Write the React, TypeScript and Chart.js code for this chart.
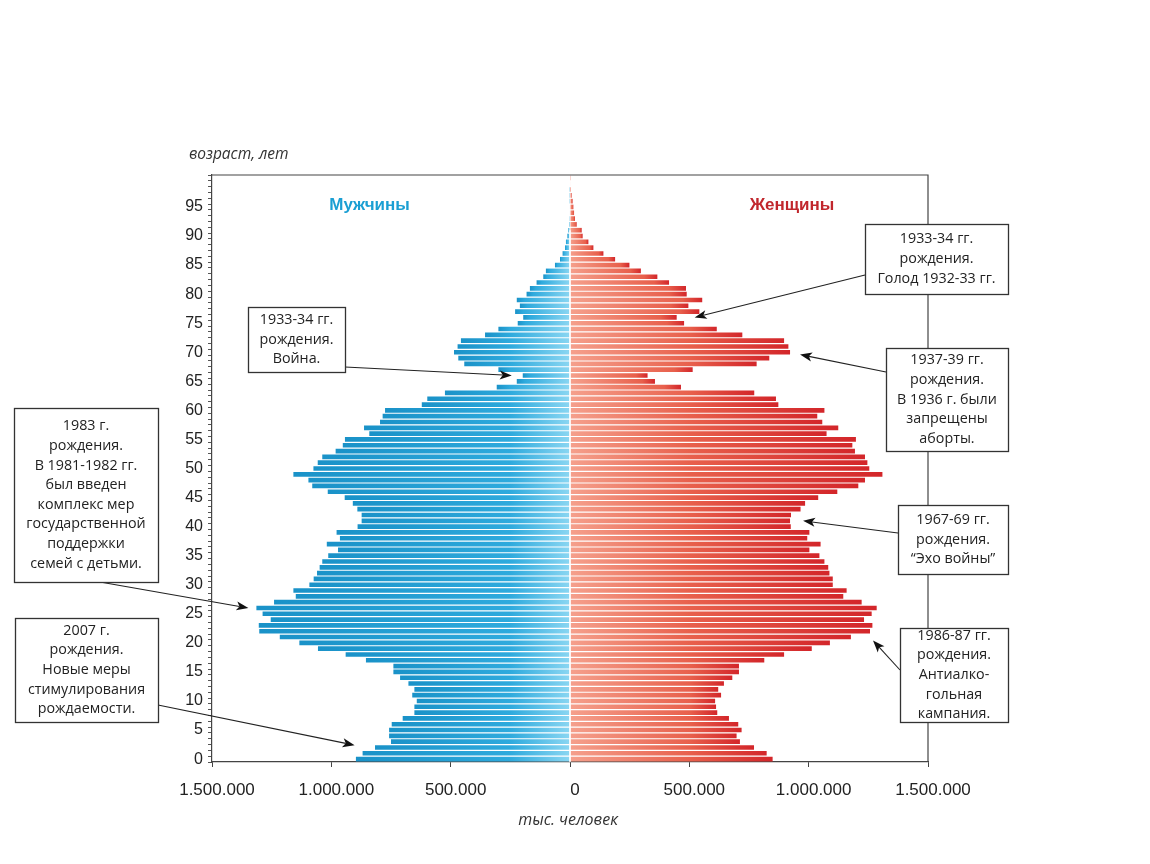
import React, { useEffect, useRef } from 'react';
import { Chart, registerables } from 'chart.js';

Chart.register(...registerables);

// ages (categories)
const ageLabels = [
  '0','1','2','3','4','5','6','7','8','9','10','11','12','13','14','15','16','17','18','19',
  '20','21','22','23','24','25','26','27','28','29','30','31','32','33','34','35','36','37','38','39',
  '40','41','42','43','44','45','46','47','48','49','50','51','52','53','54','55','56','57','58','59',
  '60','61','62','63','64','65','66','67','68','69','70','71','72','73','74','75','76','77','78','79',
  '80','81','82','83','84','85','86','87','88','89','90','91','92','93','94','95','96','97','98','99','100',
];

// thousands of persons, age 0..100
const maleThousands = [
  897, 869, 817, 750, 758, 758, 747, 701, 652, 652,
  642, 661, 652, 677, 712, 740, 740, 855, 940, 1056,
  1134, 1216, 1302, 1304, 1254, 1288, 1314, 1240, 1149, 1159,
  1092, 1074, 1060, 1049, 1038, 1013, 972, 1019, 964, 978,
  890, 873, 873, 891, 910, 944, 1015, 1080, 1096, 1159,
  1075, 1057, 1038, 982, 952, 943, 841, 863, 796, 785,
  775, 621, 598, 524, 307, 223, 198, 300, 443, 468,
  486, 471, 457, 356, 300, 219, 196, 230, 210, 223,
  182, 168, 140, 112, 101, 63, 42, 31, 21, 17,
  11, 7, 4, 3, 2, 2, 1, 1, 1, 0, 0,
];

const femaleThousands = [
  849, 824, 771, 712, 698, 719, 705, 666, 617, 612,
  608, 633, 621, 645, 680, 708, 708, 814, 897, 1013,
  1089, 1177, 1257, 1267, 1232, 1264, 1285, 1222, 1145, 1159,
  1101, 1101, 1087, 1082, 1066, 1045, 1003, 1050, 994, 1003,
  925, 922, 926, 966, 985, 1040, 1120, 1208, 1236, 1309,
  1254, 1246, 1236, 1194, 1183, 1198, 1075, 1124, 1057, 1036,
  1066, 873, 863, 772, 465, 356, 325, 514, 782, 835,
  922, 915, 897, 722, 615, 478, 447, 542, 496, 554,
  489, 486, 415, 366, 297, 249, 189, 140, 98, 77,
  53, 49, 28, 21, 17, 14, 11, 7, 4, 2, 1,
];

const yTickLabels = ['0','5','10','15','20','25','30','35','40','45','50','55','60','65','70','75','80','85','90','95'];
const xTickValues = [-1500000, -1000000, -500000, 0, 500000, 1000000, 1500000];
const xTickLabels = ['1.500.000','1.000.000','500.000','0','500.000','1.000.000','1.500.000'];

const maleLabel = 'Мужчины';
const femaleLabel = 'Женщины';
const yTitle = 'возраст, лет';
const xTitle = 'тыс. человек';

type Note = {
  lines: string[];
  box: [number, number, number, number];
  from: [number, number];
  series: 'male' | 'female';
  age: number;
  dAge: number;
  dx: number;
};

const notes: Note[] = [
  { lines: ['1933-34 гг.', 'рождения.', 'Война.'], box: [248, 307, 97, 65], from: [345, 367], series: 'male', age: 66, dAge: 0, dx: -11 },
  { lines: ['1933-34 гг.', 'рождения.', 'Голод 1932-33 гг.'], box: [865, 224, 143, 70], from: [865, 275], series: 'female', age: 76, dAge: 0, dx: 18 },
  { lines: ['1937-39 гг.', 'рождения.', 'В 1936 г. были', 'запрещены', 'аборты.'], box: [886, 348, 122, 103], from: [886, 372], series: 'female', age: 70, dAge: -0.4, dx: 10 },
  { lines: ['1967-69 гг.', 'рождения.', '“Эхо войны”'], box: [898, 505, 110, 69], from: [898, 533], series: 'female', age: 41, dAge: 0, dx: 13 },
  { lines: ['1986-87 гг.', 'рождения.', 'Антиалко-', 'гольная', 'кампания.'], box: [900, 628, 108, 94], from: [900, 670], series: 'female', age: 22, dAge: -1.6, dx: 3 },
  { lines: ['1983 г.', 'рождения.', 'В 1981-1982 гг.', 'был введен', 'комплекс мер', 'государственной', 'поддержки', 'семей с детьми.'], box: [14, 408, 144, 174], from: [100, 582], series: 'male', age: 26, dAge: 0, dx: -8 },
  { lines: ['2007 г.', 'рождения.', 'Новые меры', 'стимулирования', 'рождаемости.'], box: [15, 618, 143, 104], from: [158, 705], series: 'male', age: 1, dAge: 1.4, dx: -8 },
];

function barGradient(c: any, light: string, mid: string, dark: string, fadePx: number) {
  const chart = c.chart;
  if (!chart.chartArea || c.type !== 'data') return mid;
  const xs = chart.scales.x;
  const v = c.raw as number;
  const x0 = xs.getPixelForValue(0);
  const x1 = xs.getPixelForValue(v);
  const L = Math.abs(x1 - x0);
  if (L < 1) return mid;
  const g = chart.ctx.createLinearGradient(x0, 0, x1, 0);
  g.addColorStop(0, light);
  g.addColorStop(Math.min(0.85, fadePx / L), mid);
  g.addColorStop(1, dark);
  return g;
}

const decorPlugin = {
  id: 'decor',
  afterDatasetsDraw(chart: any) {
    const ctx = chart.ctx as CanvasRenderingContext2D;
    const xs = chart.scales.x;
    const ys = chart.scales.y;
    const x0 = xs.getPixelForValue(0);
    ctx.save();
    ctx.strokeStyle = 'rgba(255,255,255,0.95)';
    ctx.lineWidth = 1.6;
    ctx.beginPath();
    ctx.moveTo(x0, chart.chartArea.bottom);
    ctx.lineTo(x0, ys.getPixelForValue(91));
    ctx.stroke();
    ctx.restore();
  },
  afterDraw(chart: any) {
    const ctx = chart.ctx as CanvasRenderingContext2D;
    const ca = chart.chartArea;
    const xs = chart.scales.x;
    const ys = chart.scales.y;
    ctx.save();
    // frame top + right
    ctx.strokeStyle = '#444';
    ctx.lineWidth = 1.2;
    ctx.beginPath();
    ctx.moveTo(ca.left, ca.top);
    ctx.lineTo(ca.right, ca.top);
    ctx.lineTo(ca.right, ca.bottom);
    ctx.stroke();

    // series titles
    ctx.font = 'bold 17px "Liberation Sans", Arial, sans-serif';
    ctx.textAlign = 'center';
    ctx.textBaseline = 'middle';
    ctx.fillStyle = '#1b9fd3';
    ctx.fillText(maleLabel, xs.getPixelForValue(-840000), 205);
    ctx.fillStyle = '#c1272d';
    ctx.fillText(femaleLabel, xs.getPixelForValue(930000), 205);

    // axis titles
    ctx.fillStyle = '#333';
    ctx.font = 'italic 15.5px "Open Sans", "DejaVu Sans", sans-serif';
    ctx.textAlign = 'left';
    ctx.fillText(yTitle, 189, 155);
    ctx.textAlign = 'center';
    ctx.font = 'italic 16px "Open Sans", "DejaVu Sans", sans-serif';
    ctx.fillText(xTitle, xs.getPixelForValue(0) - 2, 820);

    // annotations
    for (const n of notes) {
      const vals = n.series === 'male' ? maleThousands : femaleThousands;
      const sign = n.series === 'male' ? -1 : 1;
      const tx = xs.getPixelForValue(sign * vals[n.age] * 1000) + n.dx;
      const ty = ys.getPixelForValue(n.age + n.dAge);
      const [fx, fy] = n.from;
      const ang = Math.atan2(ty - fy, tx - fx);
      const hl = 12, hw = 4.5;
      const bx = tx - hl * Math.cos(ang), by = ty - hl * Math.sin(ang);
      ctx.strokeStyle = '#222';
      ctx.lineWidth = 1.1;
      ctx.beginPath();
      ctx.moveTo(fx, fy);
      ctx.lineTo(bx + 3 * Math.cos(ang), by + 3 * Math.sin(ang));
      ctx.stroke();
      ctx.fillStyle = '#111';
      ctx.beginPath();
      ctx.moveTo(tx, ty);
      ctx.lineTo(bx - hw * Math.sin(ang), by + hw * Math.cos(ang));
      ctx.lineTo(bx + 3 * Math.cos(ang), by + 3 * Math.sin(ang));
      ctx.lineTo(bx + hw * Math.sin(ang), by - hw * Math.cos(ang));
      ctx.closePath();
      ctx.fill();

      const [x, y, w, h] = n.box;
      ctx.fillStyle = '#fff';
      ctx.fillRect(x, y, w, h);
      ctx.strokeStyle = '#333';
      ctx.lineWidth = 1.3;
      ctx.strokeRect(x + 0.5, y + 0.5, w, h);
      ctx.fillStyle = '#222';
      ctx.font = '14.3px "Open Sans", "DejaVu Sans", sans-serif';
      ctx.textAlign = 'center';
      ctx.textBaseline = 'middle';
      const lh = 19.6;
      const cy = y + h / 2 - ((n.lines.length - 1) * lh) / 2;
      n.lines.forEach((t, i) => ctx.fillText(t, x + w / 2, cy + i * lh));
    }
    ctx.restore();
  },
};

export default function App() {
  const ref = useRef<HTMLCanvasElement>(null);
  useEffect(() => {
    if (!ref.current) return;
    Chart.defaults.font.family = '"Liberation Sans", Arial, sans-serif';
    const chart = new Chart(ref.current, {
      type: 'bar',
      data: {
        labels: ageLabels,
        datasets: [
          {
            label: maleLabel,
            data: maleThousands.map((v) => -v * 1000),
            backgroundColor: (c: any) => barGradient(c, '#8ad6f2', '#2eaadd', '#1a92c8', 60),
            borderWidth: 0,
            barPercentage: 0.8,
            categoryPercentage: 1,
          },
          {
            label: femaleLabel,
            data: femaleThousands.map((v) => v * 1000),
            backgroundColor: (c: any) => barGradient(c, '#f5a08c', '#e8604c', '#d3262a', 120),
            borderWidth: 0,
            barPercentage: 0.8,
            categoryPercentage: 1,
          },
        ],
      },
      options: {
        indexAxis: 'y',
        responsive: false,
        animation: false,
        devicePixelRatio: 1,
        layout: { padding: { left: 172, top: 175, right: 222, bottom: 62 } },
        plugins: { legend: { display: false }, tooltip: { enabled: false } },
        scales: {
          x: {
            type: 'linear',
            min: -1500000,
            max: 1500000,
            stacked: true,
            afterBuildTicks: (s: any) => {
              s.ticks = xTickValues.map((v) => ({ value: v }));
            },
            afterFit: (s: any) => {
              s.height = 40;
            },
            ticks: {
              autoSkip: false,
              maxRotation: 0,
              padding: 13,
              labelOffset: 5,
              color: '#222',
              font: { size: 17 },
              callback: (_v: any, i: number) => xTickLabels[i],
            },
            grid: { drawOnChartArea: false, tickLength: 5, color: '#444' },
            border: { display: true, color: '#444', width: 1.2 },
          },
          y: {
            type: 'category',
            reverse: true,
            stacked: true,
            offset: true,
            afterFit: (s: any) => {
              s.width = 40;
            },
            ticks: {
              autoSkip: false,
              padding: 5,
              color: '#222',
              font: { size: 16 },
              callback: (v: any) => (yTickLabels.includes(ageLabels[v]) ? ageLabels[v] : ''),
            },
            grid: { drawOnChartArea: false, tickLength: 4, color: '#555', offset: true },
            border: { display: true, color: '#444', width: 1.2 },
          },
        },
      },
      plugins: [decorPlugin],
    });
    return () => chart.destroy();
  }, []);
  return (
    <div style={{ position: 'absolute', left: 0, top: 0, width: 1150, height: 864, background: '#fff' }}>
      <canvas ref={ref} width={1150} height={864} />
    </div>
  );
}
